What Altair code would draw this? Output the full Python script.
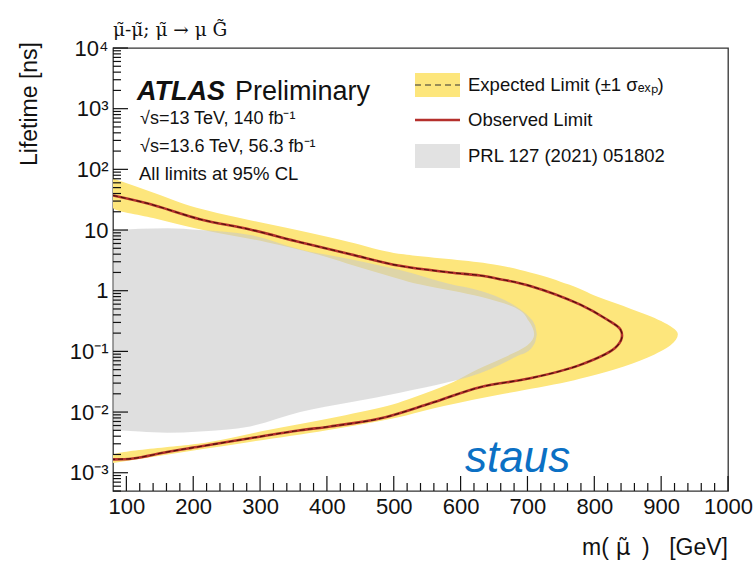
import altair as alt
import pandas as pd

W, H = 615, 443
FONT = "Liberation Sans"

# ---------------- data ----------------
# Expected limit +-1 sigma band, sampled along lifetime: inner / outer mass edges
band_life = [70.8, 39.8, 23.4, 15.8, 10.0, 6.31, 3.98, 2.82, 2.0, 1.26, 0.794, 0.501,
             0.316, 0.191, 0.126, 0.0794, 0.0501, 0.0316, 0.0200, 0.0126, 0.00794,
             0.00501, 0.00316, 0.00195, 0.00145]
band_m_inner = [80, 80, 80, 140, 215, 310, 385, 430, 475, 540, 630, 685,
                702, 710, 700, 665, 625, 590, 545, 490, 405, 310, 220, 80, 80]
band_m_outer = [80, 145, 205, 270, 355, 435, 515, 640, 704, 762, 805, 855,
                900, 925, 914, 880, 830, 760, 665, 575, 500, 400, 280, 155, 80]

# Previous result (PRL 127 (2021) 051802) excluded region
prl_m = [80, 120, 161, 210, 285, 360, 435, 509, 584, 629, 659, 684, 704, 709, 712, 714]
prl_life_top = [9.77, 10.5, 10.7, 10.0, 8.32, 4.79, 3.31, 2.19, 1.29, 1.0, 0.759, 0.537,
                0.355, 0.302, 0.251, 0.191]
prl_life_bot = [0.00513, 0.00479, 0.00457, 0.00479, 0.00580, 0.0100, 0.0145, 0.0209,
                0.0316, 0.0437, 0.0603, 0.0832, 0.107, 0.126, 0.148, 0.191]

# Observed limit contour (path order)
obs_m = [80, 135, 210, 285, 360, 435, 509, 584, 629, 659, 704, 779, 819, 839, 841,
         831, 779, 704, 629, 554, 479, 405, 360, 285, 210, 161, 110, 80]
obs_life = [37.2, 26.9, 15.1, 10.2, 6.3, 4.0, 2.57, 2.0, 1.78, 1.55, 1.2, 0.59, 0.335, 0.23, 0.166,
            0.114, 0.060, 0.036, 0.0257, 0.0138, 0.0078, 0.0058, 0.0050, 0.0037, 0.0027, 0.0022,
            0.00172, 0.00166]
# Expected limit contour (coincides with the observed one at this resolution)
exp_m = list(obs_m)
exp_life = list(obs_life)

x_ticks = [100, 200, 300, 400, 500, 600, 700, 800, 900, 1000]
y_ticks = [0.001, 0.01, 0.1, 1, 10, 100, 1000, 10000]
y_labels = ["10⁻³", "10⁻²", "10⁻¹", "1", "10", "10²", "10³", "10⁴"]
x_minor = [m for m in range(100, 1000, 20) if m % 100 != 0]
y_minor = [k * 10.0 ** d for d in range(-4, 4) for k in range(2, 10)
           if 5e-4 <= k * 10.0 ** d <= 1e4]

# ---------------- tables ----------------
band_df = pd.DataFrame({"life": band_life, "m_in": band_m_inner, "m_out": band_m_outer})
prl_df = pd.DataFrame({"m": prl_m, "top": prl_life_top, "bot": prl_life_bot})
obs_df = pd.DataFrame({"m": obs_m, "life": obs_life, "i": range(len(obs_m))})
exp_df = pd.DataFrame({"m": exp_m, "life": exp_life, "i": range(len(exp_m))})
xt_df = pd.DataFrame({"m": x_ticks})
xm_df = pd.DataFrame({"m": x_minor})
yt_df = pd.DataFrame({"life": y_ticks})
ym_df = pd.DataFrame({"life": y_minor})
one = pd.DataFrame({"a": [1]})

xscale = alt.Scale(domain=[80, 1000], nice=False, zero=False)
yscale = alt.Scale(type="log", domain=[5e-4, 1e4], nice=False)
label_expr = "[" + ",".join("'%s'" % s for s in y_labels) + "][round(log(datum.value)/LN10)+3]"

xaxis = alt.Axis(values=x_ticks, title=None, ticks=False, domain=False, grid=False, format="d",
                 labelFontSize=22, labelFont=FONT, labelColor="#111", labelPadding=5,
                 labelFlush=False, labelOverlap=False, tickSize=0)
yaxis = alt.Axis(values=y_ticks, title=None, ticks=False, domain=False, grid=False,
                 labelFontSize=22, labelFont=FONT, labelColor="#111", labelPadding=5,
                 labelFlush=False, labelOverlap=False, labelExpr=label_expr, tickSize=0)


def X(f):
    return alt.X(f, type="quantitative", scale=xscale, axis=xaxis)


def Y(f):
    return alt.Y(f, type="quantitative", scale=yscale, axis=yaxis)


YELLOW = "#fde67c"
RED = "#b5302c"

band = alt.Chart(band_df).mark_area(orient="horizontal", color=YELLOW, clip=True,
                                    interpolate="monotone").encode(
    y=Y("life"), x=X("m_in"), x2="m_out")

prl = alt.Chart(prl_df).mark_area(color="#c8c8c8", opacity=0.58, clip=True,
                                  interpolate="monotone").encode(
    x=X("m"), y=Y("top"), y2="bot")

obs = alt.Chart(obs_df).mark_line(color=RED, strokeWidth=2.6, clip=True,
                                  interpolate="catmull-rom").encode(
    x=X("m"), y=Y("life"), order="i:Q")
exp = alt.Chart(exp_df).mark_line(color="#2a0800", strokeWidth=1.1, strokeDash=[5, 3],
                                  opacity=0.75, clip=True, interpolate="catmull-rom").encode(
    x=X("m"), y=Y("life"), order="i:Q")

# inward ticks (ROOT style)
xt = alt.Chart(xt_df).mark_rule(color="#111", strokeWidth=1.2).encode(
    x=X("m"), y=alt.value(H), y2=alt.value(H - 15))
xm = alt.Chart(xm_df).mark_rule(color="#111", strokeWidth=1.2).encode(
    x=X("m"), y=alt.value(H), y2=alt.value(H - 8))
yt = alt.Chart(yt_df).mark_rule(color="#111", strokeWidth=1.2).encode(
    y=Y("life"), x=alt.value(0), x2=alt.value(15))
ym = alt.Chart(ym_df).mark_rule(color="#111", strokeWidth=1.2).encode(
    y=Y("life"), x=alt.value(0), x2=alt.value(8))


def txt(s, x, y, size, align="left", baseline="alphabetic", **kw):
    props = dict(text=s, fontSize=size, font=kw.pop("font", FONT), align=align,
                 baseline=baseline, color=kw.pop("color", "#111"))
    props.update(kw)
    return alt.Chart(one).mark_text(**props).encode(x=alt.value(x), y=alt.value(y))


texts = [
    txt("μ̃-μ̃; μ̃ → μ G̃", 0, -12, 18.5, font="DejaVu Serif"),
    txt("ATLAS", 24, 52, 27, fontWeight="bold", fontStyle="italic"),
    txt("Preliminary", 257, 52, 27, align="right"),
    txt("√s=13 TeV, 140 fb⁻¹", 27, 76, 18),
    txt("√s=13.6 TeV, 56.3 fb⁻¹", 27, 104, 18),
    txt("All limits at 95% CL", 26, 132, 18.5),
    txt("Expected Limit (±1 σₑₓₚ)", 355, 37, 18.5, baseline="middle"),
    txt("Observed Limit", 355, 72, 18.5, baseline="middle"),
    txt("PRL 127 (2021) 051802", 355, 108, 18.5, baseline="middle"),
    txt("staus", 352, 424, 44, fontStyle="italic", color="#0b70c4"),
    txt("Lifetime [ns]", -83, -6, 23, align="right", baseline="middle", angle=270),
    txt("m(", 469, 507, 23),
    txt("μ̃", 510, 507, 23, align="center", font="DejaVu Sans"),
    txt(")", 529, 507, 23),
    txt("[GeV]", W, 507, 23, align="right"),
]

leg = [
    alt.Chart(one).mark_rect(color=YELLOW).encode(
        x=alt.value(302), x2=alt.value(347), y=alt.value(25), y2=alt.value(49)),
    alt.Chart(one).mark_rule(color="#333", strokeWidth=1.2, strokeDash=[6, 4]).encode(
        x=alt.value(302), x2=alt.value(347), y=alt.value(37)),
    alt.Chart(one).mark_rule(color=RED, strokeWidth=2.6).encode(
        x=alt.value(302), x2=alt.value(347), y=alt.value(72)),
    alt.Chart(one).mark_rect(color="#e2e2e2").encode(
        x=alt.value(302), x2=alt.value(347), y=alt.value(96), y2=alt.value(120)),
]

chart = alt.layer(band, prl, obs, exp, xt, xm, yt, ym, *leg, *texts).properties(
    width=W, height=H,
    autosize=alt.AutoSizeParams(type="none"),
    padding={"left": 113, "top": 48, "right": 28, "bottom": 73},
    background="white",
).configure_view(stroke="#333", strokeWidth=1.3)

chart.save("out.html", embed_options={"renderer": "svg", "actions": False})
